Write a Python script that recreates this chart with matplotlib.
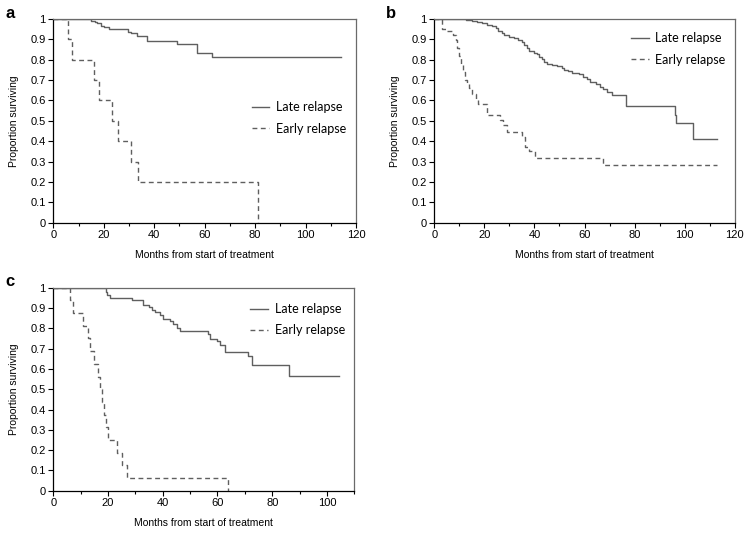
import matplotlib
matplotlib.use("Agg")
import matplotlib.pyplot as plt
from matplotlib.ticker import MultipleLocator, FuncFormatter

# ---- data ----
a_late_t = [0, 15, 16.5, 17.5, 19, 20, 22, 29.5, 31, 33, 37, 49, 57, 63, 114]
a_late_s = [1.0, 0.99, 0.985, 0.979, 0.967, 0.959, 0.951, 0.938, 0.93, 0.918, 0.892, 0.877, 0.835, 0.812, 0.812]
a_early_t = [0, 6, 7.3, 16.3, 18, 23.1, 25.8, 31, 33.4, 81]
a_early_s = [1.0, 0.9, 0.8, 0.7, 0.6, 0.5, 0.4, 0.3, 0.2, 0.0]

b_late_t = [0, 12.7, 15, 17, 19, 21, 23, 24.5, 25.5, 27, 28, 30, 32, 33.5, 35, 36, 37, 38, 40, 41,
            42, 43, 44, 45, 47, 49, 51, 52, 53.5, 55, 58, 59.5, 61, 62, 64.5, 66, 67.5, 69, 71,
            76.6, 96, 96.6, 103.5, 113]
b_late_s = [1.0, 0.995, 0.99, 0.985, 0.978, 0.972, 0.966, 0.955, 0.94, 0.93, 0.92, 0.91, 0.905, 0.897,
            0.885, 0.872, 0.859, 0.845, 0.835, 0.826, 0.815, 0.805, 0.79, 0.78, 0.775, 0.768, 0.76,
            0.752, 0.745, 0.736, 0.728, 0.717, 0.705, 0.693, 0.68, 0.668, 0.655, 0.64, 0.627,
            0.574, 0.53, 0.491, 0.409, 0.409]
b_early_t = [0, 3.1, 5, 7.6, 8.5, 9.2, 10, 10.8, 11.6, 12.4, 13.2, 14, 15, 16.5, 17.5, 20.9, 26.2,
             27.5, 28.9, 34.9, 36.2, 38, 40.2, 67.3, 113]
b_early_s = [1.0, 0.95, 0.94, 0.92, 0.897, 0.86, 0.82, 0.78, 0.74, 0.70, 0.68, 0.66, 0.63, 0.60,
             0.585, 0.528, 0.505, 0.48, 0.447, 0.423, 0.373, 0.35, 0.316, 0.285, 0.285]

c_late_t = [0, 19.3, 19.8, 20.7, 28.7, 32.9, 34.8, 36, 37.2, 39, 40.2, 42.7, 43.9, 45.1, 46.3,
            56.7, 57.3, 59.8, 61, 62.8, 71.3, 72.6, 86, 104.3]
c_late_s = [1.0, 0.98, 0.965, 0.949, 0.939, 0.915, 0.905, 0.89, 0.88, 0.865, 0.845, 0.835, 0.82,
            0.80, 0.788, 0.77, 0.745, 0.735, 0.717, 0.683, 0.663, 0.621, 0.565, 0.565]
c_early_t = [0, 6.1, 7.3, 11, 12.6, 13.4, 15, 16.5, 17, 17.8, 18.6, 19.4, 20.1, 23.2, 25, 26.8, 64]
c_early_s = [1, 0.9375, 0.875, 0.8125, 0.75, 0.6875, 0.625, 0.5625, 0.5, 0.4375, 0.375, 0.3125,
             0.25, 0.1875, 0.125, 0.0625, 0]

series_labels = ["Late relapse", "Early relapse"]
panel_letters = ["a", "b", "c"]
x_label = "Months from start of treatment"
y_label = "Proportion surviving"

plt.rcParams['font.family'] = ['Liberation Sans', 'DejaVu Sans']

W, H = 752, 538
fig = plt.figure(figsize=(W / 100, H / 100), dpi=100)

def rect(l, r, t, b):
    return [l / W, 1 - b / H, (r - l) / W, (b - t) / H]

panels = [
    dict(rect=rect(53.3, 356, 19, 222.7), xmax=120, late=(a_late_t, a_late_s), early=(a_early_t, a_early_s),
         leg=(0.655, 0.595), letter=(5, 14)),
    dict(rect=rect(434.3, 734.7, 19, 222.7), xmax=120, late=(b_late_t, b_late_s), early=(b_early_t, b_early_s),
         leg=(0.655, 0.935), letter=(386, 14)),
    dict(rect=rect(53.3, 354.3, 287.7, 490.7), xmax=110, late=(c_late_t, c_late_s), early=(c_early_t, c_early_s),
         leg=(0.655, 0.925), letter=(5, 282)),
]

line_col = "#5f5f5f"
for i, p in enumerate(panels):
    ax = fig.add_axes(p["rect"])
    lt, ls = p["late"]
    et, es = p["early"]
    ax.plot(lt, ls, drawstyle="steps-post", color=line_col, lw=1.0, label=series_labels[0])
    ax.plot(et, es, drawstyle="steps-post", color=line_col, lw=1.0, dashes=(3.5, 2.5),
            label=series_labels[1])
    ax.set_xlim(0, p["xmax"])
    ax.set_ylim(0, 1)
    ax.xaxis.set_major_locator(MultipleLocator(20))
    ax.xaxis.set_minor_locator(MultipleLocator(10))
    ax.yaxis.set_major_locator(MultipleLocator(0.1))
    ax.yaxis.set_major_formatter(FuncFormatter(lambda v, pos: "%g" % round(v, 2)))
    ax.tick_params(axis="both", which="major", direction="out", length=3.5, width=0.8,
                   labelsize=8, colors="black", pad=2)
    ax.tick_params(axis="x", which="minor", direction="out", length=2.5, width=0.8)
    for s in ["left", "bottom"]:
        ax.spines[s].set_color("black")
        ax.spines[s].set_linewidth(0.9)
    for s in ["top", "right"]:
        ax.spines[s].set_color("#6a6a6a")
        ax.spines[s].set_linewidth(0.9)
    ax.set_xlabel(x_label, fontsize=7.5, labelpad=7)
    ax.set_ylabel(y_label, fontsize=7.5, labelpad=8)
    leg = ax.legend(loc="upper left", bbox_to_anchor=p["leg"], frameon=False,
                    prop=dict(family="Lato", size=9), handlelength=1.4, handletextpad=0.55,
                    labelspacing=0.75, borderpad=0, borderaxespad=0)
    fig.text(p["letter"][0] / W, 1 - p["letter"][1] / H, panel_letters[i], fontsize=12,
             fontweight="bold", va="center", ha="left")

fig.savefig("out.png", dpi=100)
